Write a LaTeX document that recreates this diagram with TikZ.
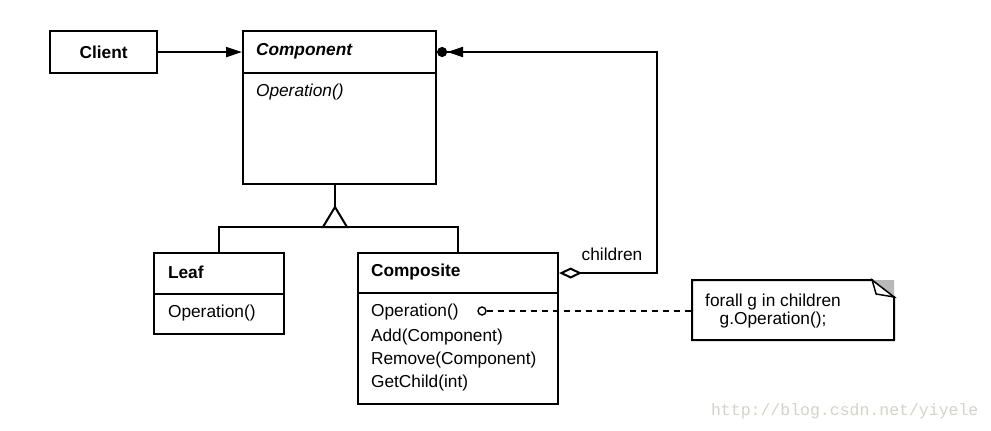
\documentclass[tikz,border=0pt]{standalone}
\usepackage{fontspec}
\setmainfont{Liberation Sans}
\newfontfamily\wmfont{Liberation Mono}
\usetikzlibrary{arrows.meta,calc}
\definecolor{wmgray}{RGB}{214,210,202}
\begin{document}
\begin{tikzpicture}[x=1pt,y=-1pt,line width=2.1pt,
  box/.style={draw,rectangle,anchor=north west,inner sep=0pt},
  txt/.style={anchor=west,inner sep=0pt,font=\fontsize{17.3}{20}\selectfont},
  btxt/.style={txt,font=\fontsize{17.3}{20}\selectfont\bfseries},
  conn/.style={line width=2pt},
  tri/.style={-{Triangle[length=16pt,width=10pt]}}]
\useasboundingbox (0,0) rectangle (991,431);
\fill[white] (0,0) rectangle (991,431);

% Client
\node[box,minimum width=107,minimum height=42] (client) at (49,30) {};
\node[inner sep=0pt,font=\fontsize{17.3}{20}\selectfont\bfseries] (clientT) at (client.center) {Client};

% Component
\node[box,minimum width=193,minimum height=42] (compH) at (242,30) {};
\node[box,minimum width=193,minimum height=111] (compB) at (242,72) {};
\node[txt,font=\fontsize{17.3}{20}\selectfont\bfseries\itshape] (compT) at (255,51) {Component};
\node[txt,font=\fontsize{17.3}{20}\selectfont\itshape] (compOp) at (255,92) {Operation()};

% Leaf
\node[box,minimum width=130,minimum height=41] (leafH) at (153,252) {};
\node[box,minimum width=130,minimum height=40] (leafB) at (153,293) {};
\node[btxt] (leafT) at (167,272) {Leaf};
\node[txt] (leafOp) at (167,313) {Operation()};

% Composite
\node[box,minimum width=200,minimum height=40] (compoH) at (357,252) {};
\node[box,minimum width=200,minimum height=111] (compoB) at (357,292) {};
\node[btxt] (compoT) at (370,272) {Composite};
\node[txt] (op1) at (370,312) {Operation()};
\node[txt] (op2) at (370,337) {Add(Component)};
\node[txt] (op3) at (370,360) {Remove(Component)};
\node[txt] (op4) at (370,383) {GetChild(int)};

% Client -> Component
\draw[conn,tri] (client) -- (compH);

% Inheritance
\coordinate (apex) at (335,207);
\coordinate (bus) at (335,227);
\draw[conn] (compB.south -| apex) -- (apex);
\draw[conn,line join=miter] (apex) -- (323,227) -- (347,227) -- cycle;
\draw[conn] (leafH.north) |- (bus) -| (compoH.north);

% children aggregation
\coordinate (corner) at (657,52);
\draw[conn,line join=miter,{Diamond[open,fill=white,length=23pt,width=11pt]}-{Triangle[length=16pt,width=10pt]Circle[length=10pt]}]
  (compoH.east) -| (corner) -- (compH.east |- corner);
\node[anchor=south,inner sep=0pt,font=\fontsize{17.3}{20}\selectfont] (childL) at (612,262) {children};

% Note
\node[minimum width=200,minimum height=58,inner sep=0pt,anchor=north west] (note) at (692,280) {};
\draw[conn,line join=miter] (note.north west) -- ($(note.north east)+(-22,0)$) -- ($(note.north east)+(0,17)$) -- (note.south east) -- (note.south west) -- cycle;
\fill[gray!55] ($(note.north east)+(-22,0)$) -- (note.north east) -- ($(note.north east)+(0,17)$) -- cycle;
\draw[line width=1.5pt,line join=miter,fill=white] ($(note.north east)+(-22,0)$) -- ($(note.north east)+(-18,14)$) -- ($(note.north east)+(0,17)$) -- cycle;
\node[inner sep=0pt,align=center,font=\fontsize{17.3}{18.5}\selectfont] (noteT) at (773,311) {forall g in children\\g.Operation();};

% dashed link
\node[circle,draw,line width=1.4pt,minimum size=8,inner sep=0pt,fill=white] (dot) at (482,311) {};
\draw[line width=1.6pt,dash pattern=on 6pt off 5pt] (dot.east) -- (dot -| note.west);

% watermark
\node[anchor=west,inner sep=0pt,text=wmgray,font=\wmfont\fontsize{16.5}{18}\selectfont] (wm) at (710,411) {http://blog.csdn.net/yiyele};
\end{tikzpicture}
\end{document}
